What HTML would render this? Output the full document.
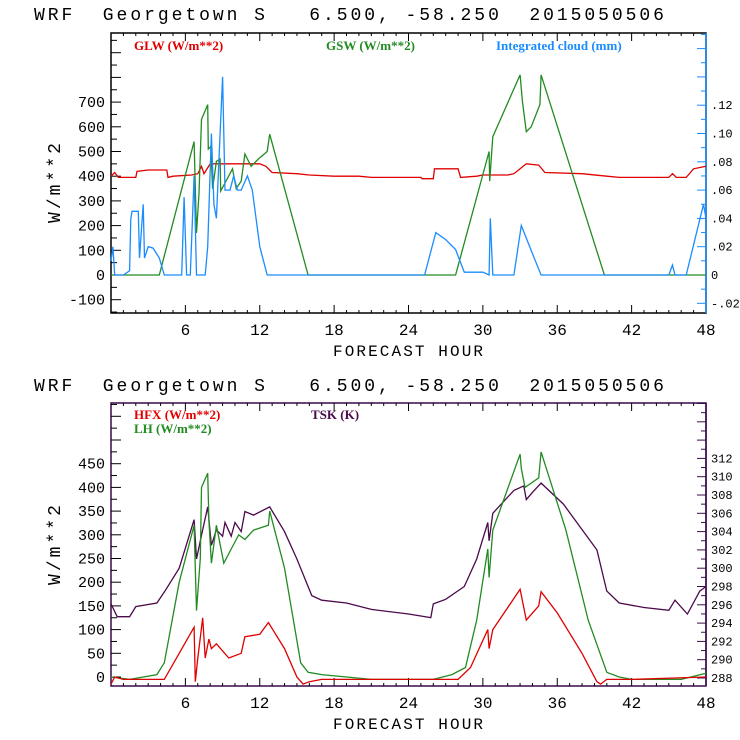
<!DOCTYPE html>
<html><head><meta charset="utf-8">
<style>
html,body{margin:0;padding:0;background:#fff;}
svg{display:block;}
.mono{font-family:"Liberation Mono",monospace;}
.ser{font-family:"Liberation Serif",serif;font-weight:bold;}
</style></head>
<body>
<svg id="chart" width="740" height="740" viewBox="0 0 740 740" xmlns="http://www.w3.org/2000/svg"></svg>
<script>
// ---- data: top panel ----
const glwHours = [0,0.3,0.6,1,2,2.1,3,4.5,4.6,5,6.5,7,7.3,7.5,8,8.3,12,12.5,13,15,16,18,20,21,25,25.1,26,26.1,28,28.2,29.5,30,32,32.5,33,33.5,34.5,35,38,40,41,45,45.3,45.6,46.4,47,48];
const glwValues = [400,415,395,395,395,420,425,425,395,400,405,410,440,410,450,450,450,440,415,410,405,400,400,395,395,390,390,430,430,395,400,405,405,410,430,450,445,415,410,400,395,395,410,395,395,430,440];
const gswHours = [0,3.9,6.7,6.9,7.1,7.3,7.8,7.85,8.05,8.2,8.5,8.8,8.85,9.8,10.1,10.5,10.8,11.3,11.9,12.6,12.8,15.9,27.8,30.5,30.55,30.8,33,33.2,33.5,33.9,34.6,34.7,39.8,48];
const gswValues = [0,0,540,170,330,630,690,510,520,350,460,470,340,430,350,380,490,440,470,500,570,0,0,500,380,560,810,700,580,600,690,810,0,0];
const cldHours = [0,0.15,0.3,0.5,1,1.5,1.6,1.7,2.2,2.3,2.6,2.7,3.0,3.4,3.9,4.3,5.7,5.9,6.1,6.4,6.7,6.9,7.6,7.8,8.1,8.3,8.5,8.8,9.0,9.2,9.6,9.9,10.2,10.5,11.0,11.4,12.0,12.6,25.3,26.2,27.0,27.8,28.5,30.0,30.5,30.6,30.8,32.5,33.1,34.0,34.7,45.0,45.3,45.5,46.4,47.8,48];
const cldValues = [0.01,0.02,0.0,0,0,0.003,0.04,0.045,0.045,0.012,0.05,0.012,0.02,0.019,0.012,0,0,0.055,0,0,0.07,0,0,0.02,0.1,0.05,0.04,0.1,0.14,0.06,0.06,0.07,0.06,0.06,0.07,0.06,0.02,0,0,0.03,0.025,0.018,0.002,0.002,0.0,0.04,0,0,0.035,0.015,0,0,0.007,0,0,0.05,0.04];
// ---- data: bottom panel ----
const tskHours = [0,0.5,1.5,2.0,3.7,4.4,5.5,6.7,6.9,7.3,7.8,8.1,8.5,9,9.2,9.7,10,10.5,10.8,11.5,12.8,14,15,16.2,17,19,21,24,25.8,26,27,28.5,29.5,30.4,30.5,30.8,32.5,33.3,33.5,34,34.7,36.5,39.2,40,41,43,45,45.5,46.5,47.5,48];
const tskValues = [296.1,294.7,294.7,295.8,296.2,297.6,300,305.3,301,303.6,306.7,302.5,304.2,303.5,305,303.5,305,304,306.2,305.8,306.7,304,301,297,296.5,296.2,295.5,295,294.6,296.1,296.6,298,301,305,303,306,308.5,309,307.5,308.3,309.3,307,302,297.5,296.2,295.7,295.4,296.5,295,297.5,298];
const lhHours = [0,1.5,3.7,4.3,5.5,6.7,6.9,7.2,7.3,7.8,7.9,8.1,8.5,9.1,9.7,10.3,10.8,11.5,12.7,12.8,14,15.3,15.9,17,21,26,27.5,28.6,29.5,30.4,30.5,30.8,33,33.1,33.4,34.5,34.7,36.7,38.5,40,41,42,46,48];
const lhValues = [0,-5,5,30,200,320,140,250,400,430,330,240,320,240,270,300,290,310,320,350,230,30,10,5,-5,-5,5,20,120,270,210,310,470,440,400,420,475,310,120,10,0,-5,-5,8];
const hfxHours = [0,0.3,1,4.3,5.5,6.7,6.8,7,7.4,7.6,7.9,8.1,8.5,9.5,10.5,10.8,12,12.7,14,15,15.5,16,17,28,29,30.4,30.5,30.8,33,33.5,34.5,34.7,36,38,39.2,39.5,40,42,48];
const hfxValues = [-15,0,-5,-5,50,105,-10,40,125,40,80,60,70,40,50,85,90,115,60,0,-15,-10,-5,-5,20,100,60,100,185,120,150,180,135,50,-10,-15,-5,-5,0];
const xTickLabels = ["6","12","18","24","30","36","42","48"];
const topLeftTicks = ["-100","0","100","200","300","400","500","600","700"];
const topRightTicks = ["-.02","0",".02",".04",".06",".08",".10",".12"];
const botLeftTicks = ["0","50","100","150","200","250","300","350","400","450"];
const botRightTicks = ["288","290","292","294","296","298","300","302","304","306","308","310","312"];

const NS="http://www.w3.org/2000/svg";
const svg=document.getElementById('chart');
function mk(tag,attrs,parent){const e=document.createElementNS(NS,tag);for(const k in attrs)e.setAttribute(k,attrs[k]);(parent||svg).appendChild(e);return e;}
const X0=111,X1=706;
const xs=h=>X0+(X1-X0)*h/48;

function panel(o){
  const g=mk('g',{});
  
  
  const t=mk('text',{x:34,y:o.titleY,'font-size':18,fill:'#000',class:'mono',textLength:630,lengthAdjust:'spacing',style:'white-space:pre'},g);
  t.textContent="WRF  Georgetown S   6.500, -58.250  2015050506";
  
  
  const fr=mk('rect',{x:X0,y:o.top,width:X1-X0,height:o.bot-o.top,fill:'none',stroke:o.frame,'stroke-width':1.5},g);
  
  
  mk('line',{x1:X1,y1:o.top,x2:X1,y2:o.bot,stroke:o.rightColor,'stroke-width':1.5},g);
  for(let h=1;h<48;h++){
    const L=h%6===0?8:3;
    mk('line',{x1:xs(h),y1:o.bot,x2:xs(h),y2:o.bot-L,stroke:'#000'},g);
    mk('line',{x1:xs(h),y1:o.top,x2:xs(h),y2:o.top+L,stroke:'#000'},g);
  }
  xTickLabels.forEach((s,i)=>{const tx=mk('text',{x:xs(6*(i+1)),y:o.bot+22,'font-size':16,'text-anchor':'middle',class:'mono'},g);tx.textContent=s;
    });
  const xt=mk('text',{x:408,y:o.bot+43,'font-size':16,'text-anchor':'middle',class:'mono',textLength:150,lengthAdjust:'spacing',style:'white-space:pre'},g);
  xt.textContent="FORECAST HOUR";
  
  for(let v=o.lMin;v<=o.lMaxTick;v+=o.lStep/2){
    const y=o.ly(v); if(y<o.top||y>o.bot)continue;
    const major=Math.abs((v/o.lStep)-Math.round(v/o.lStep))<1e-6;
    mk('line',{x1:X0,y1:y,x2:X0+(major?10:6),y2:y,stroke:'#000'},g);
  }
  o.lLabels.forEach(s=>{const v=parseFloat(s);const tx=mk('text',{x:X0-6,y:o.ly(v)+5,'font-size':15,'text-anchor':'end',class:'mono'},g);tx.textContent=s;
    });
  for(let v=o.rMin;v<=o.rMax+1e-9;v+=o.rStep/2){
    const y=o.ry(v); if(y<o.top||y>o.bot)continue;
    const major=Math.abs((v/o.rStep)-Math.round(v/o.rStep))<1e-6;
    mk('line',{x1:X1,y1:y,x2:X1-(major?9:5),y2:y,stroke:o.rightColor},g);
  }
  o.rLabels.forEach(s=>{const v=parseFloat(s);const tx=mk('text',{x:X1+5,y:o.ry(v)+4,'font-size':12,class:'mono'},g);tx.textContent=s;
    });
  const yl=mk('text',{x:0,y:0,'font-size':18,'text-anchor':'middle',class:'mono',textLength:80,lengthAdjust:'spacing',transform:`translate(${o.ylX},${o.ylY}) rotate(-90)`},g);
  yl.textContent="W/m**2";
  
  o.series.forEach(s=>{
    const pts=s.h.map((h,i)=>xs(h).toFixed(1)+','+s.sc(s.v[i]).toFixed(1)).join(' ');
    const p=mk('polyline',{points:pts,fill:'none',stroke:s.color,'stroke-width':1.3},g);
    
    
  });
  o.legend.forEach(l=>{const tx=mk('text',{x:l.x,y:l.y,'font-size':13,fill:l.color,class:'ser'},g);tx.textContent=l.t;
    });
}

const tly=v=>275-v*0.247;
const try_=v=>275-v*1415;
panel({name:'top-panel',titleY:20,top:33,bot:313,frame:'#000',rightColor:'#1a8cff',
  ly:tly,ry:try_,lMin:-150,lMaxTick:950,lStep:100,lLabels:topLeftTicks,
  rMin:-0.02,rMax:0.18,rStep:0.02,rLabels:topRightTicks,ylX:60,ylY:183,
  series:[
    {name:'glw-line',h:glwHours,v:glwValues,sc:tly,color:'#e00000'},
    {name:'gsw-line',h:gswHours,v:gswValues,sc:tly,color:'#228b22'},
    {name:'cloud-line',h:cldHours,v:cldValues,sc:try_,color:'#1a8cff'}],
  legend:[{x:134,y:50,t:'GLW (W/m**2)',color:'#e00000'},{x:326,y:50,t:'GSW (W/m**2)',color:'#228b22'},{x:496,y:50,t:'Integrated cloud (mm)',color:'#1a8cff'}]
});
const bly=v=>677-v*0.474;
const bry=v=>678-(v-288)*9.15;
panel({name:'bottom-panel',titleY:391,top:403,bot:686,frame:'#3a0a4a',rightColor:'#3a0a4a',
  ly:bly,ry:bry,lMin:-25,lMaxTick:600,lStep:50,lLabels:botLeftTicks,
  rMin:288,rMax:318,rStep:2,rLabels:botRightTicks,ylX:60,ylY:545,
  series:[
    {name:'tsk-line',h:tskHours,v:tskValues,sc:bry,color:'#4b0a4b'},
    {name:'lh-line',h:lhHours,v:lhValues,sc:bly,color:'#228b22'},
    {name:'hfx-line',h:hfxHours,v:hfxValues,sc:bly,color:'#e00000'}],
  legend:[{x:134,y:419,t:'HFX (W/m**2)',color:'#e00000'},{x:134,y:433,t:'LH  (W/m**2)',color:'#228b22'},{x:311,y:419,t:'TSK (K)',color:'#4b0a4b'}]
});
</script>
</body></html>
